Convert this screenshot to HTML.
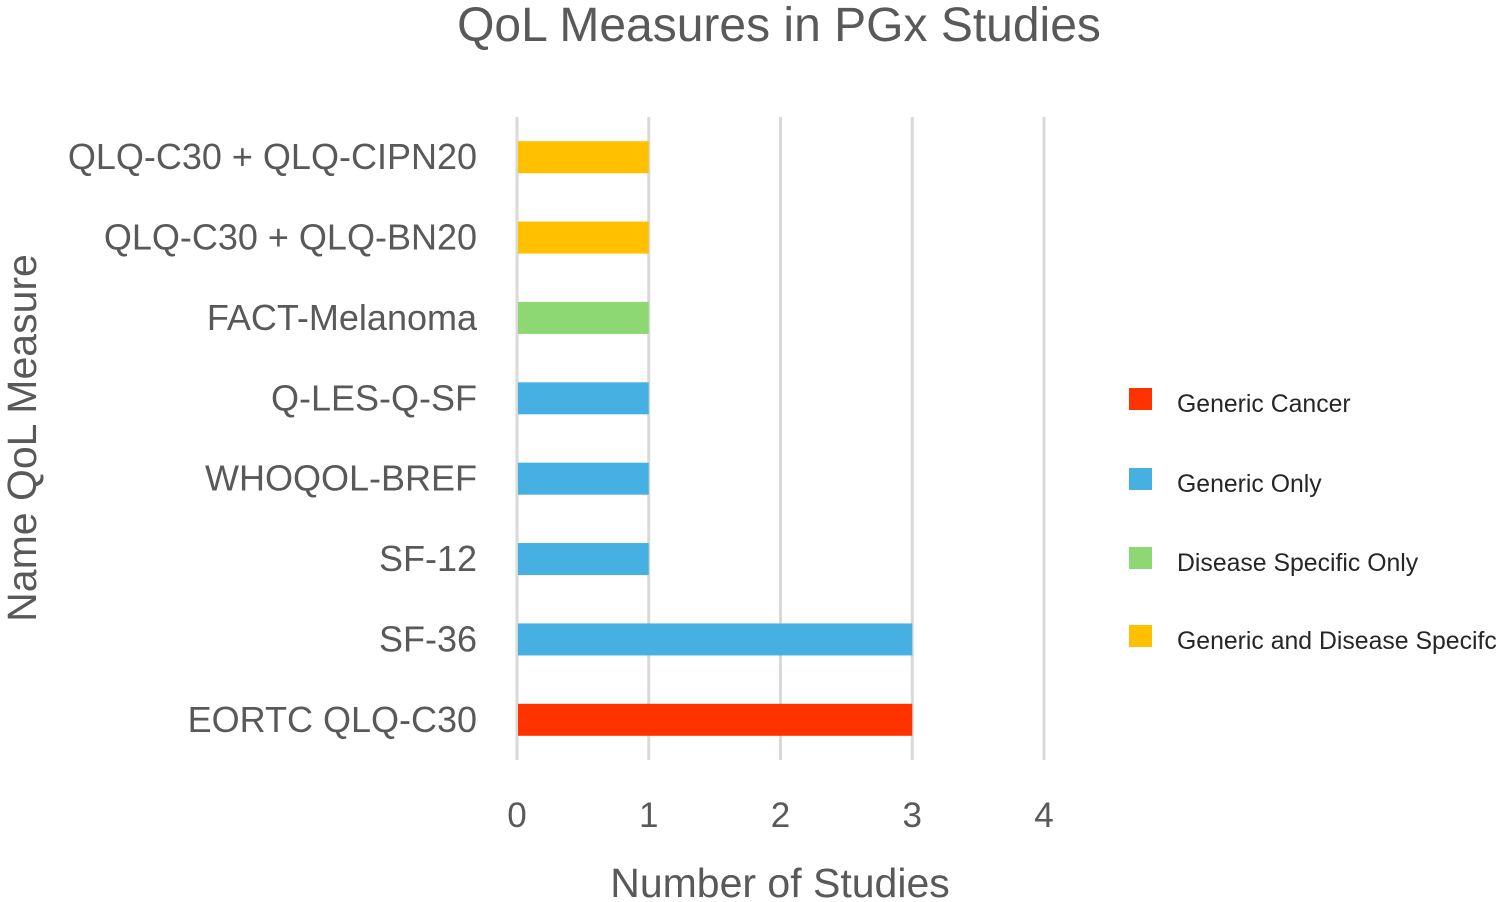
<!DOCTYPE html>
<html><head><meta charset="utf-8"><style>
html,body{margin:0;padding:0;background:#fff;}
svg{display:block;font-family:"Liberation Sans",sans-serif;}
</style></head><body>
<svg id="chart" width="1499" height="902" viewBox="0 0 1499 902">
<text x="779" y="41" text-anchor="middle" font-size="48" fill="#595959">QoL Measures in PGx Studies</text>
<g id="grid"></g>
<g id="bars"></g>
<g id="ylabels"></g>
<g id="xlabels"></g>
<text x="780" y="897" text-anchor="middle" font-size="41" fill="#595959">Number of Studies</text>
<text transform="translate(36,438) rotate(-90)" text-anchor="middle" font-size="41" fill="#595959">Name QoL Measure</text>
<g id="legend"></g>
</svg>
<script>
const categories=["QLQ-C30 + QLQ-CIPN20","QLQ-C30 + QLQ-BN20","FACT-Melanoma","Q-LES-Q-SF","WHOQOL-BREF","SF-12","SF-36","EORTC QLQ-C30"];
const values=[1,1,1,1,1,1,3,3];
const groups=["both","both","disease","generic","generic","generic","generic","cancer"];
const xTicks=[0,1,2,3,4];
const legendKeys=["cancer","generic","disease","both"];
const legendLabels=["Generic Cancer","Generic Only","Disease Specific Only","Generic and Disease Specifc"];
const colors={cancer:"#FF3300",generic:"#45B0E1",disease:"#8ED873",both:"#FFC000"};
const NS="http://www.w3.org/2000/svg";
const x0=517,xUnit=131.75,yTop=117,yBot=760;
const band=(yBot-yTop)/categories.length;
const xs=v=>x0+v*xUnit;
const yc=i=>yTop+band*(i+0.5);
function mk(tag,attrs,parent,text){const e=document.createElementNS(NS,tag);for(const k in attrs)e.setAttribute(k,attrs[k]);if(text!==undefined)e.textContent=text;document.getElementById(parent).appendChild(e);return e;}
xTicks.forEach(t=>{
 const l=mk("line",{x1:xs(t),x2:xs(t),y1:yTop,y2:yBot,stroke:"#D9D9D9","stroke-width":3},"grid");
 
 
 const tx=mk("text",{x:xs(t),y:827,"text-anchor":"middle","font-size":35,fill:"#595959"},"xlabels",String(t));
 
 
});
categories.forEach((c,i)=>{
 const r=mk("rect",{x:xs(0)+1,y:yc(i)-16,width:xs(values[i])-xs(0)-1,height:32,fill:colors[groups[i]]},"bars");
 
 
 const t=mk("text",{x:477,y:yc(i)+12,"text-anchor":"end","font-size":36,fill:"#595959"},"ylabels",c);
 
 
});
const legY=[399,479,558,636];
legendKeys.forEach((k,i)=>{
 const r=mk("rect",{x:1129,y:legY[i]-11,width:23,height:22,fill:colors[k]},"legend");
 
 
 const t=mk("text",{x:1177,y:legY[i]+13,"font-size":24.8,fill:"#262626"},"legend",legendLabels[i]);
 
 
});
</script>
</body></html>
